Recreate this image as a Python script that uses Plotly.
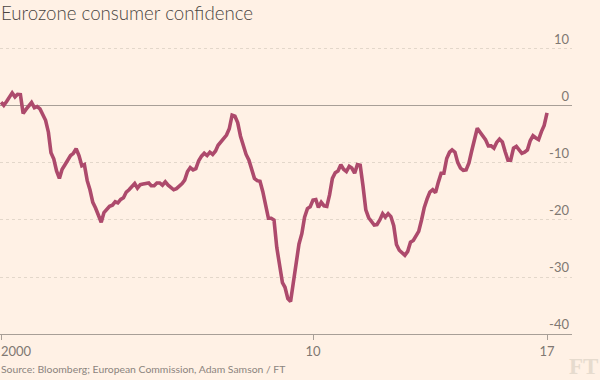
import plotly.graph_objects as go
import pandas as pd

# Monthly Eurozone consumer confidence, Sep 2000 - Jan 2017
start_month = "2000-09-01"
values = [
    0.65, 0.1, 0.8, 1.7, 2.3, 1.6, 2.05, 2.0, -1.3, -0.6, 0.1, 0.6,
    -0.3, -0.1, -0.5, -1.4, -2.5, -4.6, -8.2, -9.3, -11.4, -12.7, -11.1, -10.3,
    -9.4, -8.7, -8.3, -7.5, -8.7, -10.5, -10.3, -13.1, -14.7, -16.9, -17.9, -19.0,
    -20.4, -18.7, -18.1, -17.6, -17.4, -16.8, -17.0, -16.4, -16.1, -15.1, -14.7, -14.2,
    -13.6, -14.4, -13.8, -13.7, -13.6, -13.5, -14.0, -14.0, -13.5, -13.5, -13.9, -13.3,
    -13.9, -14.3, -14.7, -14.5, -14.1, -13.6, -13.0, -11.5, -10.8, -11.2, -11.0, -9.6,
    -8.8, -8.3, -8.7, -8.1, -8.5, -7.9, -6.9, -6.3, -5.6, -5.1, -4.0, -1.6,
    -1.8, -2.9, -5.3, -6.9, -8.5, -9.5, -11.2, -12.7, -13.1, -13.2, -15.0, -17.8,
    -19.7, -19.7, -20.0, -24.8, -27.8, -31.0, -31.8, -33.8, -34.3, -30.7, -27.2, -24.2,
    -22.4, -19.5, -18.0, -17.7, -16.5, -16.4, -17.8, -16.9, -17.5, -17.6, -15.6, -12.7,
    -11.7, -11.4, -10.3, -11.1, -11.5, -10.6, -10.9, -11.8, -10.3, -10.4, -14.0, -18.2,
    -19.6, -20.2, -20.9, -20.8, -20.0, -18.9, -19.5, -18.9, -19.4, -21.0, -24.3, -25.3,
    -25.7, -26.2, -25.5, -23.9, -23.6, -22.9, -22.0, -20.0, -17.8, -16.3, -15.1, -14.7,
    -15.2, -13.4, -11.8, -11.8, -9.2, -8.1, -7.7, -8.1, -9.9, -10.9, -11.3, -11.2,
    -10.0, -7.9, -5.5, -3.9, -4.6, -5.4, -5.9, -7.0, -7.0, -7.4, -6.4, -5.8,
    -6.3, -8.0, -9.5, -9.5, -7.4, -7.1, -7.7, -8.3, -8.1, -7.7, -6.1, -5.2,
    -5.6, -5.9, -4.5, -3.4, -1.2,
]
dates = pd.date_range(start_month, periods=len(values), freq="MS")

x_tick_vals = ["2000-09-01", "2010-01-01", "2017-01-01"]
x_tick_text = ["", "10", "17"]
x_first_tick_val = ["2000-09-01"]
x_first_tick_text = ["2000"]
y_tick_vals = [-40, -30, -20, -10, 0, 10]
y_tick_text = ["-40", "-30", "-20", "-10", "0", "10"]

title_text = "Eurozone consumer confidence"
source_text = "Source: Bloomberg; European Commission, Adam Samson / FT"

BG = "#FFF1E5"
LINE = "#AD4A6C"
AXIS = "#A89F97"
GRID = "#E3D7CA"
TICKFONT = "#807872"
X_RANGE = ["2000-08-21", "2017-10-01"]

fig = go.Figure()
fig.add_trace(go.Scatter(
    x=dates, y=values, mode="lines",
    line=dict(color=LINE, width=3.6),
    cliponaxis=False, hoverinfo="skip", showlegend=False,
))
# invisible companion trace so the overlaying label axis is drawn
fig.add_trace(go.Scatter(
    x=dates, y=values, mode="lines", xaxis="x2",
    line=dict(width=0), opacity=0, hoverinfo="skip", showlegend=False,
))

fig.update_layout(
    width=600, height=380,
    paper_bgcolor=BG, plot_bgcolor=BG,
    margin=dict(l=0, r=28, t=32, b=46, autoexpand=False),
    xaxis=dict(
        type="date", automargin=False,
        range=X_RANGE,
        tickvals=x_tick_vals, ticktext=x_tick_text,
        ticklabeloverflow="allow",
        showgrid=False, zeroline=False,
        showline=True, linecolor=AXIS, linewidth=1,
        ticks="outside", ticklen=5, tickcolor=AXIS, tickwidth=1,
        tickfont=dict(family="Lato", size=13, color=TICKFONT),
    ),
    xaxis2=dict(
        type="date", automargin=False, overlaying="x", anchor="y", side="bottom",
        range=X_RANGE,
        tickvals=x_first_tick_val, ticktext=x_first_tick_text,
        ticklabelshift=15, ticklabeloverflow="allow",
        showgrid=False, zeroline=False, showline=False,
        ticks="outside", ticklen=5, tickcolor="rgba(0,0,0,0)",
        tickfont=dict(family="Lato", size=13, color=TICKFONT),
    ),
    yaxis=dict(
        side="right", automargin=False,
        range=[-40, 12.98],
        tickvals=y_tick_vals, ticktext=y_tick_text,
        ticklabelposition="inside top",
        ticklabeloverflow="allow",
        showgrid=True, gridcolor=GRID, griddash="dot", gridwidth=1,
        zeroline=True, zerolinecolor=AXIS, zerolinewidth=1,
        showline=False, ticks="",
        tickfont=dict(family="Lato", size=13, color=TICKFONT),
    ),
    annotations=[
        dict(text=title_text, xref="paper", yref="paper", x=0, y=1,
             xanchor="left", yanchor="bottom", yshift=6, xshift=-1, showarrow=False,
             font=dict(family="Lato", size=18.7, color="#4A4542", weight=300)),
        dict(text=source_text, xref="paper", yref="paper", x=0, y=0,
             xanchor="left", yanchor="top", yshift=-27, xshift=-1, showarrow=False,
             font=dict(family="Lato", size=10.4, color="#8B847E")),
        dict(text="<b>FT</b>", xref="paper", yref="paper", x=1, y=0,
             xanchor="left", yanchor="top", xshift=-5, yshift=-18, showarrow=False,
             font=dict(family="Liberation Serif", size=23, color="#E6DBCE")),
    ],
)

fig.write_html("out.html", config={"displayModeBar": False},
               post_script="document.body.style.margin='0';")
